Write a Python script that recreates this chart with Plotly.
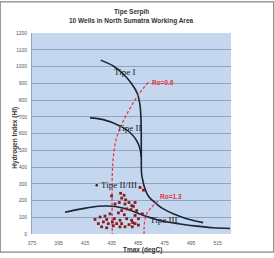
import plotly.graph_objects as go

# ---- data ----
type1_x = [426.8, 436.3, 443.8, 450.1, 454.4, 456.4, 457.2, 457.4, 457.6, 458.4, 459.4, 462.7, 469.0, 474.0, 481.5, 491.6, 504.0]
type1_y = [1038, 1003, 955, 897, 839, 770, 674, 479, 360, 324, 289, 227, 179, 150, 121, 91, 68]

type2_x = [418.7, 428.7, 440.0, 448.9, 453.9, 456.4, 457.3]
type2_y = [693, 683, 650, 606, 557, 508, 460]

type3_x = [399.9, 412.4, 425.0, 432.5, 442.6, 449.5, 461.5, 474.0, 486.6, 499.2, 511.7, 524.3]
type3_y = [130, 150, 166, 167, 157, 140, 105, 76, 60, 47, 37, 33]

ro06_x = [462.7, 455.0, 443.8, 438.8, 436.3, 435.5, 435.5]
ro06_y = [905, 829, 674, 577, 460, 350, 0]

ro13_x = [470.0, 465.0, 461.4, 459.8, 459.5, 459.5]
ro13_y = [195, 159, 120, 70, 30, 0]

samples_x = [441.8, 444.4, 442.6, 445.6, 440.8, 445.1, 448.1, 451.4, 437.6, 446.4,
             449.6, 453.9, 442.6, 440.1, 444.6, 452.7, 433.8, 430.0, 426.3, 431.3,
             437.1, 441.3, 446.4, 450.1, 455.2, 425.0, 428.8, 432.5, 435.6, 438.8,
             442.6, 448.1, 452.7, 427.5, 431.3, 436.3, 441.3, 445.1, 450.6, 455.2,
             422.5, 458.2, 456.4, 459.0, 452.7, 450.2, 450.9, 435.0]
samples_y = [243, 231, 214, 204, 188, 179, 188, 165, 179, 150,
             146, 140, 140, 126, 115, 111, 120, 107, 101, 87,
             91, 82, 91, 82, 91, 62, 72, 62, 72, 62,
             62, 56, 62, 43, 37, 49, 43, 43, 43, 53,
             87, 120, 278, 262, 188, 169, 68, 227]

x_ticks = [375, 395, 415, 435, 455, 475, 495, 515]
y_ticks = list(range(0, 1201, 100))

title_lines = ["Tipe Serpih", "10 Wells in North Sumatra Working Area"]
x_title = "Tmax (degC)"
y_title = "Hydrogen Index (HI)"

curve_labels = [("Tipe I", 445, 965), ("Tipe II", 448, 631), ("Tipe III", 474, 81)]
ro_labels = [("Ro=0.6", 464, 907), ("Ro=1.3", 470, 223)]
mixed_label = ("Tipe II/III", 423.8, 291)

# ---- figure ----
fig = go.Figure()
curve_color = "#1b2533"
for xs, ys in [(type1_x, type1_y), (type2_x, type2_y), (type3_x, type3_y)]:
    fig.add_trace(go.Scatter(x=xs, y=ys, mode="lines", line=dict(color=curve_color, width=1.6, shape="spline"),
                             hoverinfo="skip", showlegend=False))
red = "#e8323c"
for xs, ys in [(ro06_x, ro06_y), (ro13_x, ro13_y)]:
    fig.add_trace(go.Scatter(x=xs, y=ys, mode="lines", line=dict(color=red, width=1.2, dash="3px,2px", shape="spline"),
                             hoverinfo="skip", showlegend=False))
fig.add_trace(go.Scatter(x=samples_x, y=samples_y, mode="markers",
                         marker=dict(color="#8e1c1c", size=2.8, symbol="square"), showlegend=False))
fig.add_trace(go.Scatter(x=[mixed_label[1]], y=[mixed_label[2]], mode="markers",
                         marker=dict(color="#222", size=2.5), showlegend=False))

for txt, x, y in curve_labels:
    fig.add_annotation(x=x, y=y, text=txt, showarrow=False, xanchor="center", yanchor="middle",
                       font=dict(family="Liberation Serif", size=9, color="#222"))
fig.add_annotation(x=mixed_label[1] + 1.5, y=mixed_label[2], text=mixed_label[0], showarrow=False,
                   xanchor="left", yanchor="middle", font=dict(family="Liberation Serif", size=9, color="#222"))
for txt, x, y in ro_labels:
    fig.add_annotation(x=x, y=y, text="<b>" + txt + "</b>", showarrow=False, xanchor="left", yanchor="middle",
                       font=dict(family="Liberation Sans", size=6.5, color=red))

fig.add_annotation(xref="paper", yref="paper", x=0.5, y=1.135, text="<b>" + title_lines[0] + "</b>",
                   showarrow=False, font=dict(family="Liberation Sans", size=6.5, color="#333"))
fig.add_annotation(xref="paper", yref="paper", x=0.5, y=1.09, text="<b>" + title_lines[1] + "</b>",
                   showarrow=False, font=dict(family="Liberation Sans", size=6.5, color="#333"))
fig.add_annotation(xref="paper", yref="paper", x=0.555, y=-0.048, yanchor="top", text="<b>" + x_title + "</b>",
                   showarrow=False, font=dict(family="Liberation Sans", size=6.5, color="#333"))
fig.add_annotation(xref="paper", yref="paper", x=-0.12, y=0.48, text="<b>" + y_title + "</b>", textangle=-90,
                   showarrow=False, font=dict(family="Liberation Sans", size=6.5, color="#333"))

fig.update_xaxes(range=[375, 525], tickvals=x_ticks, showgrid=False, zeroline=False, showline=False,
                 ticks="", tickfont=dict(family="Liberation Sans", size=5, color="#555"), ticklabelstandoff=5)
fig.update_yaxes(range=[0, 1200], tickvals=y_ticks, showgrid=True, gridcolor="#8aa5c6", gridwidth=1,
                 zeroline=False, showline=True, linecolor="#8aa5c6", linewidth=1, ticks="",
                 tickfont=dict(family="Liberation Sans", size=5, color="#555"), ticklabelstandoff=3)

fig.add_shape(type="rect", xref="paper", yref="paper", x0=-0.16, x1=1.215, y0=-0.09, y1=1.155,
              line=dict(color="#666", width=1), layer="below")

fig.update_layout(width=274, height=258, margin=dict(l=32, r=43, t=33, b=19),
                  plot_bgcolor="#c4d7ee", paper_bgcolor="white", showlegend=False)

fig.write_html("out.html")
